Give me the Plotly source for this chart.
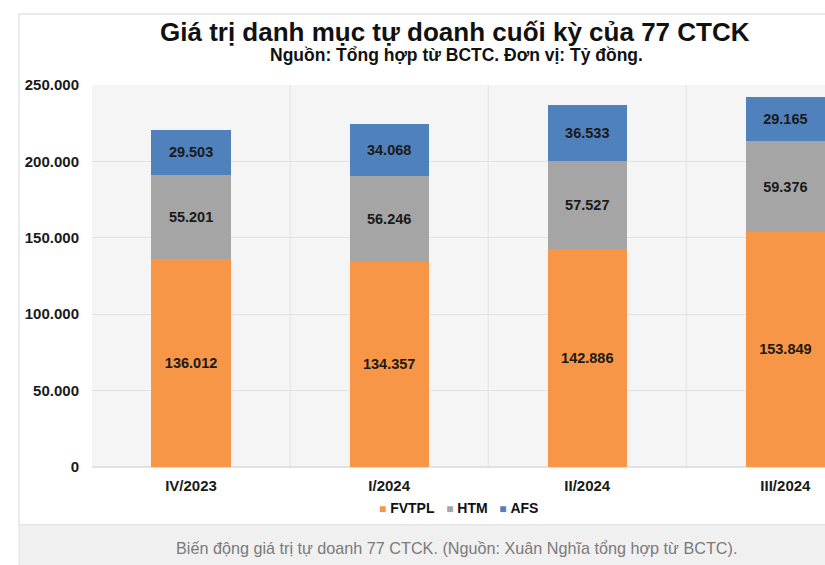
import plotly.graph_objects as go

# Số liệu (tỷ đồng)
quarters = ["IV/2023", "I/2024", "II/2024", "III/2024"]
fvtpl = [136012, 134357, 142886, 153849]
htm = [55201, 56246, 57527, 59376]
afs = [29503, 34068, 36533, 29165]

_ORANGE = "#F79646"
_GRAY = "#A5A5A5"
_BLUE = "#4F81BD"
_FONT = "Liberation Sans, Arial, sans-serif"

W, H = 825, 565
L, T, B = 92, 85, 98

series = [("FVTPL", fvtpl, _ORANGE), ("HTM", htm, _GRAY), ("AFS", afs, _BLUE)]

fig = go.Figure()
for name, vals, color in series:
    fig.add_trace(go.Bar(
        x=quarters, y=vals, name=name, marker=dict(color=color, line=dict(width=0)),
        width=0.4, texttemplate="%{y:,d}", textposition="inside",
        insidetextanchor="middle", constraintext="none",
        textfont=dict(family=_FONT, size=14.5, color="#1a1a1a", weight="bold"),
    ))


def px(x):
    return (x - L) / (W - L)


def py(y):
    return (H - B - y) / (H - T - B)


# vertical separators between categories
for i in range(len(quarters) - 1):
    fig.add_shape(type="line", xref="x", yref="y", x0=i + 0.5, x1=i + 0.5, y0=0, y1=250000,
                  line=dict(color="#e2e2e2", width=1), layer="below")

# card outline + caption strip
fig.add_shape(type="rect", xref="paper", yref="paper", x0=px(19), x1=px(W + 5),
              y0=py(525), y1=py(14), line=dict(color="#e4e4e4", width=1.5), layer="below")
fig.add_shape(type="rect", xref="paper", yref="paper", x0=px(19), x1=px(W + 5),
              y0=py(H + 5), y1=py(525), fillcolor="#f0f0f0",
              line=dict(color="#e4e4e4", width=1), layer="below")

fig.update_layout(
    width=W, height=H,
    margin=dict(l=L, r=0, t=T, b=B),
    paper_bgcolor="white", plot_bgcolor="#f5f5f5",
    barmode="stack",
    separators=",.",
    font=dict(family=_FONT, color="#1a1a1a"),
    showlegend=False,
    xaxis=dict(range=[-0.5, 3.2], showgrid=False, zeroline=False, showline=False,
               ticks="", tickfont=dict(size=15, weight="bold"), ticklabelstandoff=8),
    yaxis=dict(range=[0, 250000], tickvals=[0, 50000, 100000, 150000, 200000, 250000],
               tickformat=",d", gridcolor="#e2e2e2", zeroline=True, zerolinecolor="#e2e2e2",
               ticks="", tickfont=dict(size=15, weight="bold"), ticklabelstandoff=12),
)

fig.add_annotation(text="<b>Giá trị danh mục tự doanh cuối kỳ của 77 CTCK</b>",
                   xref="paper", yref="paper", x=px(455), y=py(32), showarrow=False,
                   xanchor="center", yanchor="middle", font=dict(size=26, color="#111"))
fig.add_annotation(text="<b>Nguồn: Tổng hợp từ BCTC. Đơn vị: Tỷ đồng.</b>",
                   xref="paper", yref="paper", x=px(456), y=py(55), showarrow=False,
                   xanchor="center", yanchor="middle", font=dict(size=17.5, color="#111"))

# compact legend like the original (small squares, tight spacing)
legend_txt = "   ".join(
    f"<span style='color:{c};font-size:12px'>■</span> <b>{n}</b>" for n, _, c in series)
fig.add_annotation(text=legend_txt, xref="paper", yref="paper", x=px(458), y=py(508),
                   showarrow=False, xanchor="center", yanchor="middle",
                   font=dict(size=14, color="#111"))

fig.add_annotation(text="Biến động giá trị tự doanh 77 CTCK. (Nguồn: Xuân Nghĩa tổng hợp từ BCTC).",
                   xref="paper", yref="paper", x=px(456), y=py(548), showarrow=False,
                   xanchor="center", yanchor="middle", font=dict(size=16.2, color="#7a7a7a"))

fig.write_html("out.html", config={"displayModeBar": False},
               post_script="document.body.style.margin='0';")
